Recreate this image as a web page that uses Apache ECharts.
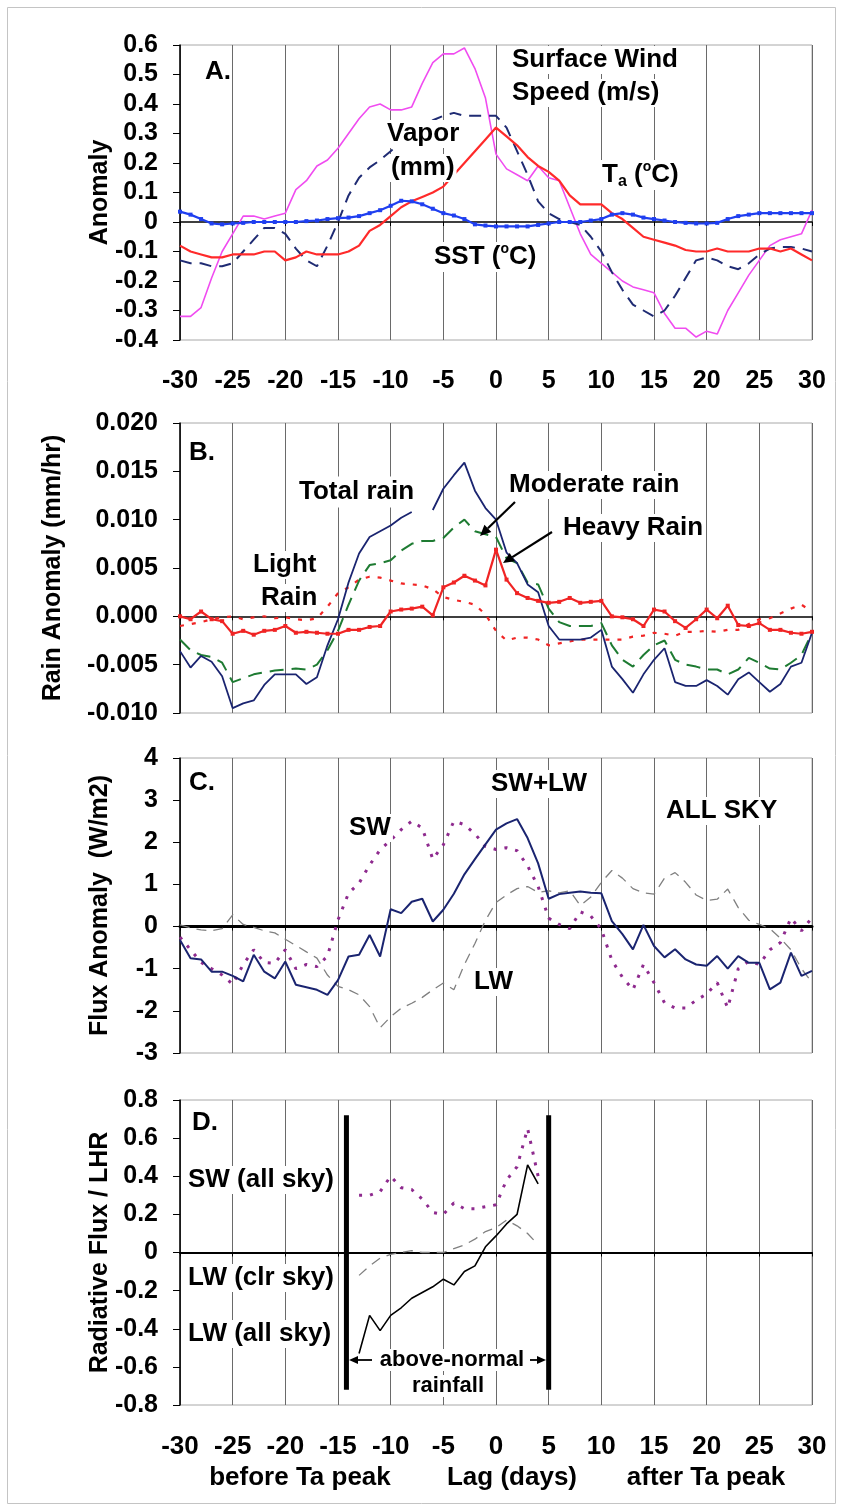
<!DOCTYPE html>
<html><head><meta charset="utf-8">
<script src="https://cdn.jsdelivr.net/npm/echarts@6/dist/echarts.min.js"></script>
<style>html,body{margin:0;padding:0;background:#fff}#c{width:843px;height:1512px}</style>
</head><body><div id="c"></div>
<script>
// ---------------- DATA ----------------
const lagDays = [-30,-29,-28,-27,-26,-25,-24,-23,-22,-21,-20,-19,-18,-17,-16,-15,-14,-13,-12,-11,-10,-9,-8,-7,-6,-5,-4,-3,-2,-1,0,1,2,3,4,5,6,7,8,9,10,11,12,13,14,15,16,17,18,19,20,21,22,23,24,25,26,27,28,29,30];
const lagTicks = [-30,-25,-20,-15,-10,-5,0,5,10,15,20,25,30];

// Panel A
const windSpeed = [-0.32,-0.32,-0.29,-0.19,-0.10,-0.04,0.02,0.02,0.01,0.02,
  0.03,0.11,0.14,0.19,0.21,0.25,0.30,0.35,0.39,0.40,
  0.38,0.38,0.39,0.47,0.54,0.57,0.57,0.59,0.52,0.42,
  0.23,0.18,0.16,0.14,0.19,0.15,0.14,0.05,-0.04,-0.11,
  -0.14,-0.17,-0.20,-0.22,-0.23,-0.24,-0.31,-0.36,-0.36,-0.39,
  -0.37,-0.38,-0.30,-0.24,-0.18,-0.13,-0.08,-0.06,-0.05,-0.04,0.04];
const vapor = [-0.13,-0.14,-0.14,-0.15,-0.15,-0.14,-0.10,-0.06,-0.02,-0.02,
  -0.04,-0.09,-0.13,-0.15,-0.08,0.0,0.09,0.15,0.185,0.21,
  0.24,0.27,0.30,0.32,0.345,0.36,0.37,0.36,0.36,0.36,
  0.36,0.32,0.24,0.16,0.07,0.03,0.01,0.00,-0.01,-0.05,
  -0.10,-0.17,-0.23,-0.28,-0.30,-0.32,-0.30,-0.25,-0.19,-0.13,
  -0.12,-0.13,-0.15,-0.16,-0.14,-0.11,-0.09,-0.085,-0.085,-0.09,-0.10];
const airTemp = [-0.08,-0.10,-0.11,-0.12,-0.12,-0.11,-0.11,-0.11,-0.10,-0.10,
  -0.13,-0.12,-0.10,-0.11,-0.11,-0.11,-0.10,-0.08,-0.03,-0.01,
  0.02,0.05,0.07,0.085,0.10,0.12,0.16,0.20,0.24,0.28,
  0.32,0.29,0.26,0.22,0.19,0.17,0.14,0.09,0.06,0.06,
  0.06,0.03,0.01,-0.02,-0.05,-0.06,-0.07,-0.08,-0.095,-0.10,
  -0.10,-0.09,-0.10,-0.10,-0.10,-0.09,-0.09,-0.10,-0.09,-0.11,-0.13];
const sst = [0.035,0.025,0.01,-0.005,-0.008,-0.005,-0.003,0,0,0,
  0,0,0.003,0.005,0.01,0.013,0.015,0.02,0.03,0.04,
  0.055,0.072,0.07,0.06,0.045,0.03,0.022,0.01,-0.008,-0.012,
  -0.015,-0.015,-0.015,-0.015,-0.01,-0.005,0,0,0,0.005,
  0.01,0.025,0.03,0.025,0.015,0.01,0.005,0,-0.003,-0.005,
  -0.005,-0.003,0.01,0.02,0.025,0.03,0.03,0.03,0.03,0.03,0.03];

// Panel B
const totalRain = [-0.0036,-0.0053,-0.0041,-0.0047,-0.0062,-0.0095,-0.009,-0.0087,-0.0071,-0.006,
  -0.006,-0.006,-0.007,-0.0063,-0.003,-0.0003,0.0035,0.0065,0.0082,0.0088,
  0.0094,0.0102,0.0108,null,0.011,0.0132,0.0146,0.0159,0.013,0.0112,
  0.0100,0.0066,0.0055,0.0033,0.0025,-0.001,-0.0024,-0.0024,-0.0024,-0.0022,
  -0.0014,-0.0052,-0.0065,-0.0079,-0.006,-0.0045,-0.0033,-0.0068,-0.0072,-0.0072,
  -0.0066,-0.0072,-0.0081,-0.0065,-0.0058,-0.0068,-0.0078,-0.007,-0.0052,-0.0048,-0.0017];
const moderateRain = [-0.0024,-0.0035,-0.004,-0.0042,-0.0048,-0.0068,-0.0064,-0.006,-0.0058,-0.0056,
  -0.0055,-0.0054,-0.0055,-0.005,-0.0035,-0.0015,0.0012,0.0037,0.0053,0.0055,
  0.0058,0.0068,0.0075,0.0078,0.0078,0.0081,0.0092,0.010,0.0088,0.0085,
  0.0082,0.006,0.0055,0.0035,0.0033,0.0008,-0.0006,-0.001,-0.001,-0.001,
  -0.0007,-0.003,-0.0045,-0.0052,-0.004,-0.003,-0.0025,-0.0045,-0.005,-0.0052,
  -0.0055,-0.0055,-0.006,-0.0055,-0.0043,-0.0048,-0.0054,-0.0055,-0.0048,-0.004,-0.0017];
const heavyRain = [0.0,-0.0003,0.0005,-0.0003,-0.0005,-0.0018,-0.0015,-0.0019,-0.0015,-0.0014,
  -0.001,-0.0017,-0.0016,-0.0017,-0.0018,-0.0018,-0.0014,-0.0014,-0.0011,-0.001,
  0.0005,0.0007,0.0008,0.001,0.0001,0.003,0.0035,0.0042,0.0037,0.0032,
  0.0069,0.0038,0.0024,0.0019,0.0016,0.0014,0.0015,0.0019,0.0014,0.0015,
  0.0016,0.0,-0.0001,-0.0003,-0.001,0.0007,0.0005,-0.0005,-0.0012,-0.0003,
  0.0007,-0.0002,0.0011,-0.0009,-0.001,-0.0007,-0.0014,-0.0014,-0.0017,-0.0018,-0.0016];
const lightRain = [-0.001,-0.0008,-0.0006,-0.0003,-0.0001,0,-0.0003,-0.0001,0.0,-0.0002,
  -0.0001,-0.0003,-0.0004,-0.0002,0.001,0.0024,0.003,0.0038,0.0041,0.004,
  0.0037,0.0034,0.0033,0.0032,0.0028,0.002,0.0017,0.0015,0.0012,0.0002,
  -0.0015,-0.0025,-0.0022,-0.0022,-0.0024,-0.003,-0.0028,-0.0026,-0.0024,-0.0024,
  -0.0024,-0.0024,-0.0024,-0.0021,-0.002,-0.0017,-0.0018,-0.002,-0.0016,-0.0016,
  -0.0015,-0.0016,-0.0014,-0.0014,-0.0008,-0.0003,-0.0002,0.0003,0.0008,0.0012,0.0005];

// Panel C
const swlwFlux = [-0.32,-0.75,-0.78,-1.07,-1.07,-1.17,-1.3,-0.67,-1.07,-1.23,
  -0.83,-1.38,-1.44,-1.5,-1.62,-1.27,-0.71,-0.67,-0.2,-0.71,
  0.41,0.32,0.59,0.66,0.12,0.40,0.78,1.24,1.6,1.95,
  2.3,2.45,2.55,2.1,1.5,0.66,0.77,0.8,0.83,0.8,
  0.79,0.13,-0.18,-0.54,0.04,-0.46,-0.73,-0.54,-0.78,-0.9,
  -0.93,-0.7,-1.0,-0.7,-0.86,-0.86,-1.49,-1.33,-0.62,-1.17,-1.05];
const swFlux = [-0.25,-0.55,-0.85,-1.0,-1.15,-1.37,-0.9,-0.55,-0.85,-0.87,
  -0.55,-1.0,-0.9,-0.95,-0.7,0.16,0.79,1.03,1.46,1.82,
  2.05,2.3,2.5,2.34,1.6,1.94,2.5,2.42,2.2,1.9,
  1.83,1.87,1.8,1.44,0.95,0.2,0.05,-0.05,0.35,0.25,
  -0.06,-0.8,-1.2,-1.5,-0.9,-1.33,-1.81,-1.93,-1.93,-1.75,
  -1.6,-1.33,-1.93,-1.0,-0.82,-0.9,-0.55,-0.38,0.2,-0.1,0.21];
const lwFlux = [0.04,-0.03,-0.08,-0.1,-0.05,0.28,0.05,-0.02,-0.1,-0.15,
  -0.3,-0.45,-0.6,-0.75,-1.15,-1.42,-1.5,-1.62,-1.9,-2.4,
  -2.14,-1.94,-1.82,-1.68,-1.5,-1.34,-1.5,-0.9,-0.4,0.15,
  0.57,0.75,0.9,0.95,0.81,0.85,0.8,0.85,0.5,0.7,
  1.05,1.33,1.15,0.9,0.8,0.77,1.15,1.28,1.05,0.75,
  0.62,0.65,0.89,0.45,0.15,0.05,-0.05,-0.28,-0.55,-1.0,-1.33];

// Panel D
const dDays = [-13,-12,-11,-10,-9,-8,-7,-6,-5,-4,-3,-2,-1,0,1,2,3,4];
const swAllSky = [0.30,0.30,0.32,0.40,0.34,0.33,0.28,0.21,0.20,0.26,0.23,0.23,0.24,0.25,0.38,0.45,0.65,0.40];
const lwAllSky = [-0.53,-0.33,-0.41,-0.33,-0.29,-0.24,-0.21,-0.18,-0.14,-0.17,-0.10,-0.07,0.03,0.087,0.15,0.20,0.46,0.36];
const lwClrSky = [-0.12,-0.07,-0.03,-0.01,0.0,0.01,0.0,0.0,0.0,0.02,0.04,0.07,0.11,0.13,0.17,0.14,0.10,0.04];
const rainPeriodBounds = [-14.2, 5.0];
const rainBarExtent = [-0.72, 0.72];

// ---------------- CHART ----------------
const F = '"Liberation Sans", Arial, Helvetica, sans-serif';
const pairs = (xs, ys) => xs.map((x, i) => [x, ys[i]]);

const gridBoxes = [
  {left:180, top:45, width:632, height:295},
  {left:180, top:423, width:632, height:290},
  {left:180, top:758, width:632, height:295},
  {left:180, top:1100, width:632, height:305}
];
const grids = gridBoxes.map(g => Object.assign({}, g, {show:true, borderColor:'#a8a8a8', borderWidth:1, backgroundColor:'#fff', containLabel:false, outerBoundsMode:'none'}));

const zeroW = [1.5, 1.5, 3, 2];
const xAxes = [];
for (let i = 0; i < 4; i++) {
  xAxes.push({gridIndex:i, type:'value', min:lagTicks[0], max:lagTicks[lagTicks.length-1], interval:5, position:'bottom',
    axisLine:{show:false, onZero:false}, axisTick:{show:false},
    axisLabel:{show: i===0 || i===3, margin: 29, color:'#000', fontWeight:'bold',
      fontSize: i===0 ? 25 : 26, fontFamily: F, showMinLabel:true, showMaxLabel:true, hideOverlap:false},
    splitLine:{show:true, lineStyle:{color:'#6a6a6a', width:1}}});
  xAxes.push({gridIndex:i, type:'value', min:lagTicks[0], max:lagTicks[lagTicks.length-1], interval:5, position:'top',
    axisLine:{show:true, onZero:true, lineStyle:{color:'#000', width:zeroW[i]}},
    axisTick:{show:true, inside:true, length:4, lineStyle:{color:'#000', width:1}},
    axisLabel:{show:false}, splitLine:{show:false}});
}

const fmt1 = v => Math.abs(v) < 1e-9 ? '0' : String(+v.toFixed(1));
const yCfg = [
  {min:-0.4, max:0.6, interval:0.1, name:'Anomaly', gap:67, fmt:fmt1},
  {min:-0.01, max:0.02, interval:0.005, name:'Rain Anomaly (mm/hr)', gap:114, fmt:v => Math.abs(v) < 1e-9 ? '0.000' : v.toFixed(3)},
  {min:-3, max:4, interval:1, name:'Flux Anomaly  (W/m2)', gap:67, fmt:v => String(Math.round(v))},
  {min:-0.8, max:0.8, interval:0.2, name:'Radiative Flux / LHR', gap:67, fmt:fmt1}
];
const yAxes = yCfg.map((c, i) => ({gridIndex:i, type:'value', min:c.min, max:c.max, interval:c.interval, position:'left',
  name:c.name, nameLocation:'middle', nameGap:c.gap, nameMoveOverlap:false,
  nameTextStyle:{color:'#000', fontWeight:'bold', fontSize:25, fontFamily:F},
  axisLine:{show:true, onZero:false, lineStyle:{color:'#000', width:1.5}},
  axisTick:{show:true, length:7, lineStyle:{color:'#000'}},
  axisLabel:{margin:22, color:'#000', fontWeight:'bold', fontSize:25, fontFamily:F, formatter:c.fmt, showMinLabel:true, showMaxLabel:true},
  splitLine:{show:false}}));

function ln(gi, xs, ys, color, width, type, extra) {
  return Object.assign({type:'line', xAxisIndex:gi*2, yAxisIndex:gi, data:pairs(xs, ys), showSymbol:false, symbol:'none',
    connectNulls:false, animation:false, z:3,
    lineStyle:{color:color, width:width, type:type || 'solid', cap:'butt'}, itemStyle:{color:color}}, extra || {});
}

const series = [
  ln(0, lagDays, windSpeed, '#f04cf0', 1.6),
  ln(0, lagDays, vapor, '#1f2b73', 2, [12, 8]),
  ln(0, lagDays, airTemp, '#ff2a2a', 2.2),
  ln(0, lagDays, sst, '#1f3ff0', 2.2, 'solid', {showSymbol:true, symbol:'rect', symbolSize:4}),

  ln(1, lagDays, lightRain, '#f02424', 2.2, [4, 8]),
  ln(1, lagDays, moderateRain, '#1e7b32', 2, [14, 8]),
  ln(1, lagDays, totalRain, '#1a2470', 1.8),
  ln(1, lagDays, heavyRain, '#f02424', 2.2, 'solid', {showSymbol:true, symbol:'rect', symbolSize:4}),

  ln(2, lagDays, lwFlux, '#808080', 1.3, [10, 7]),
  ln(2, lagDays, swFlux, '#8e2a8e', 3, [3, 8]),
  ln(2, lagDays, swlwFlux, '#1a2470', 2),

  ln(3, dDays, lwClrSky, '#808080', 1.3, [10, 7]),
  ln(3, dDays, swAllSky, '#8e2a8e', 3, [3, 8]),
  ln(3, dDays, lwAllSky, '#000000', 1.6),
  ln(3, [rainPeriodBounds[0], rainPeriodBounds[0]], rainBarExtent, '#000', 5),
  ln(3, [rainPeriodBounds[1], rainPeriodBounds[1]], rainBarExtent, '#000', 5)
];

function txt(t, x, y, size, opts) {
  return {type:'text', z:100, style:Object.assign({text:t, x:x, y:y, fill:'#000', font:'bold ' + size + 'px ' + F,
    align:'left', verticalAlign:'middle'}, opts || {})};
}
const WB = {backgroundColor:'#fff', padding:[1, 2]};
const richN = {font:'bold 26px ' + F, fill:'#000', lineHeight:30};
const richSub = {font:'bold 16px ' + F, fill:'#000', lineHeight:16, verticalAlign:'bottom'};
const richSup = {font:'bold 14px ' + F, fill:'#000', lineHeight:10, verticalAlign:'top'};

function arrow(x1, y1, x2, y2, w, head) {
  w = w || 2.2; head = head || 11;
  const dx = x2 - x1, dy = y2 - y1, L = Math.hypot(dx, dy), ux = dx / L, uy = dy / L, px = -uy, py = ux;
  const bx = x2 - head * ux, by = y2 - head * uy, hw = head * 0.45;
  return [
    {type:'line', z:100, shape:{x1:x1, y1:y1, x2:bx, y2:by}, style:{stroke:'#000', lineWidth:w}},
    {type:'polygon', z:100, shape:{points:[[x2, y2], [bx + hw * px, by + hw * py], [bx - hw * px, by - hw * py]]}, style:{fill:'#000'}}
  ];
}

const graphics = [
  {type:'rect', z:-10, shape:{x:7.5, y:7.5, width:828, height:1496}, style:{fill:'none', stroke:'#c4c4c4', lineWidth:1}},
  // Panel A
  txt('A.', 205, 72, 26),
  txt('Surface Wind', 510, 60, 26, WB),
  txt('Speed (m/s)', 510, 93, 26, WB),
  txt('Vapor', 385, 134, 26, WB),
  txt('(mm)', 389, 168, 26, WB),
  {type:'text', z:100, style:{x:600, y:175, align:'left', verticalAlign:'middle', backgroundColor:'#fff', padding:[0, 2],
    text:'{n|T}{sub|a}{n| (}{sup|o}{n|C)}', rich:{n:richN, sub:richSub, sup:richSup}}},
  {type:'text', z:100, style:{x:432, y:257, align:'left', verticalAlign:'middle', backgroundColor:'#fff', padding:[0, 2],
    text:'{n|SST (}{sup|o}{n|C)}', rich:{n:richN, sup:richSup}}},
  // Panel B
  txt('B.', 189, 453, 26),
  txt('Total rain', 297, 492, 26, {backgroundColor:'#fff', padding:[1, 2, 4, 2]}),
  txt('Moderate rain', 507, 485, 26, WB),
  txt('Heavy Rain', 561, 528, 26, WB),
  txt('Light', 251, 565, 26, WB),
  txt('Rain', 259, 598, 26, WB),
  ...arrow(515, 502, 480, 536),
  ...arrow(552, 532, 503, 563),
  // Panel C
  txt('C.', 189, 783, 26),
  txt('SW+LW', 489, 784, 26, WB),
  txt('ALL SKY', 664, 811, 26, WB),
  txt('SW', 347, 828, 26, WB),
  txt('LW', 472, 982, 26, WB),
  // Panel D
  txt('D.', 192, 1123, 26),
  txt('SW (all sky)', 186, 1180, 26, WB),
  txt('LW (clr sky)', 186, 1278, 26, WB),
  txt('LW (all sky)', 186, 1334, 26, WB),
  txt('above-normal', 452, 1360, 22, {align:'center', backgroundColor:'#fff', padding:[0, 3]}),
  ...arrow(372, 1360, 349, 1360, 1.8, 9),
  ...arrow(530, 1360, 546, 1360, 1.8, 9),
  txt('rainfall', 448, 1386, 22, {align:'center', backgroundColor:'#fff', padding:[0, 2]}),
  // bottom axis captions
  txt('before Ta peak', 300, 1478, 26, {align:'center'}),
  txt('Lag (days)', 512, 1478, 26, {align:'center'}),
  txt('after Ta peak', 706, 1478, 26, {align:'center'})
];

const chart = echarts.init(document.getElementById('c'), null, {renderer:'canvas'});
chart.setOption({
  animation:false,
  backgroundColor:'#fff',
  textStyle:{fontFamily:F},
  grid:grids, xAxis:xAxes, yAxis:yAxes, series:series, graphic:graphics
});
</script>
</body></html>
